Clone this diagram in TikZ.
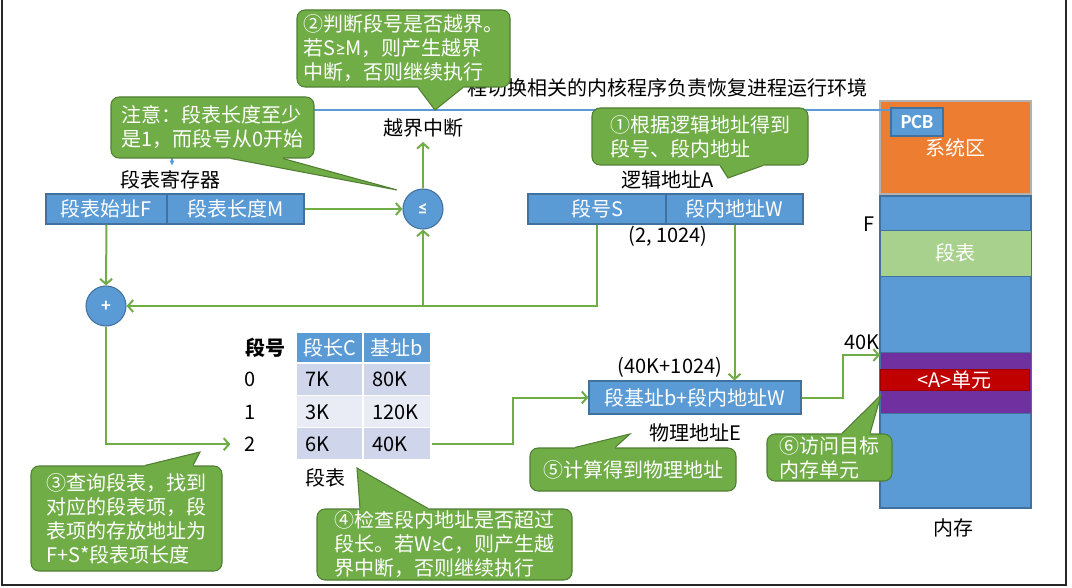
\documentclass[tikz,border=0pt]{standalone}
\usepackage{fontspec}
\setmainfont{Noto Sans CJK SC}
\newfontfamily\latf{Carlito}
\usepackage{tikz}
\usetikzlibrary{positioning,arrows.meta,calc}
\definecolor{boxblue}{HTML}{5B9BD5}
\definecolor{boxedge}{HTML}{41719C}
\definecolor{notegreen}{HTML}{70AD47}
\definecolor{noteedge}{HTML}{507E32}
\definecolor{sysorange}{HTML}{ED7D31}
\definecolor{tblgreen}{HTML}{A9D18E}
\definecolor{segpurple}{HTML}{7030A0}
\definecolor{unitred}{HTML}{C00000}
\definecolor{rowdark}{HTML}{CFD5EA}
\definecolor{rowlight}{HTML}{E9EBF5}
\newcommand{\blk}[7]{%
  \node[#6, minimum width={(#4-(#2))*0.75pt}, minimum height={(#5-(#3))*0.75pt}]
    (#1) at ({(#2+#4)/2},{(#3+#5)/2}) {#7};
}
\newcommand{\notetip}[5]{%
  \fill[notegreen] ($(#3,0 |- #1.#2)!2pt!(#3,0 |- #1.center)$) -- (#3,0 |- #1.#2) -- (#5)
    -- (#4,0 |- #1.#2) -- ($(#4,0 |- #1.#2)!2pt!(#4,0 |- #1.center)$) -- cycle;
  \draw[noteedge,line width=0.8pt] (#3,0 |- #1.#2) -- (#5) -- (#4,0 |- #1.#2);
}
\newcommand{\ges}{{\latf ≥}}

\begin{document}
\begin{tikzpicture}[x=0.75pt,y=-0.75pt,
  every node/.style={font=\fontsize{15}{18}\selectfont},
  bluebox/.style={draw=boxedge,fill=boxblue,text=white,inner sep=0pt,line width=0.8pt},
  cellbox/.style={draw=white,line width=1.2pt,inner sep=0pt},
  note/.style={draw=noteedge,fill=notegreen,text=white,inner sep=0pt,rounded corners=6pt,align=left,line width=0.8pt},
  opnode/.style={circle,draw=boxedge,fill=boxblue,text=white,minimum size=30pt,inner sep=0pt,line width=0.8pt,font=\fontsize{14}{16}\selectfont\latf\bfseries},
  flow/.style={draw=notegreen,line width=1.5pt,-{Straight Barb[length=4pt,width=9pt]}},
  bline/.style={draw=boxblue,line width=0.8pt}]
  \useasboundingbox (0,0) rectangle (1072,588);
  \draw[line width=1.5pt,black!85] (2,0) -- (2,585) -- (1066,585) -- (1066,0);

  \node[anchor=east] (kern) at (872,88) {程切换相关的内核程序负责恢复进程运行环境};
  \blk{sys}{880}{101}{1031}{194}{draw=gray!60,fill=sysorange,text=white,inner sep=0pt,line width=0.8pt}{系统区}
  \blk{pcb}{891}{108}{943}{136}{bluebox,font=\fontsize{15}{18}\selectfont\latf\bfseries}{PCB}
  \coordinate (lnstart) at (300,110);
  \draw[bline] (lnstart) -- (lnstart -| pcb.west);

  \node (regl) at (170,180) {段表寄存器};
  \blk{F}{46}{194}{167}{224}{bluebox}{段表始址F}
  \blk{M}{167}{194}{304}{224}{bluebox}{段表长度M}
  \node[opnode] (le) at (423,209) {≤};
  \node[opnode] (plus) at (106,306) {+};
  \node (intr) at (423,128) {越界中断};

  \node (la) at (668,180) {逻辑地址A};
  \blk{S}{528}{194}{666}{224}{bluebox}{段号S}
  \blk{W}{666}{194}{803}{224}{bluebox}{段内地址W}
  \node (l21) at (668,236) {(2, 1024)};
  \node (l40k) at (670,367) {(40K+1024)};
  \blk{phys}{589}{381}{801}{414}{bluebox}{段基址b+段内地址W}
  \node (le2) at (695,433) {物理地址E};

  \node[font=\fontsize{15}{18}\selectfont\bfseries] (hno) at (265,348) {段号};
  \blk{hc}{296}{332}{363}{363}{cellbox,fill=boxblue,text=white}{段长C}
  \blk{hb}{363}{332}{431}{363}{cellbox,fill=boxblue,text=white}{基址b}
  \foreach \r/\c/\b/\f in {0/7K/80K/rowdark,1/3K/120K/rowlight,2/6K/40K/rowdark} {
    \blk{cc\r}{296}{363+32.3*\r}{363}{395.3+32.3*\r}{cellbox,fill=\f}{}
    \blk{cb\r}{363}{363+32.3*\r}{431}{395.3+32.3*\r}{cellbox,fill=\f}{}
    \node[anchor=west,inner sep=0pt] (tc\r) at (305,379.6+32.3*\r) {\c};
    \node[anchor=west,inner sep=0pt] (tb\r) at (372,379.6+32.3*\r) {\b};
    \node (r\r) at (250,379.6+32.3*\r) {\r};
  }
  \node (tname) at (325,478) {段表};

  \blk{mem}{880}{196}{1031}{508}{bluebox}{}
  \blk{seg}{880}{230}{1031}{276}{draw=boxedge,fill=tblgreen,text=white,inner sep=0pt,line width=0.5pt}{段表}
  \blk{tgt}{880}{352}{1031}{413}{draw=boxedge,fill=segpurple,inner sep=0pt,line width=0.5pt}{}
  \blk{unit}{880}{369}{1029}{390}{draw=unitred!80!black,fill=unitred,text=white,inner sep=0pt,line width=0.5pt}{<A>单元}
  \node (lF) at (869,224) {F};
  \node (l40) at (862,342) {40K};
  \node (lmem) at (953,528) {内存};
  \coordinate (k40) at (880,355);

  \draw[flow] (M.east) -- (le.west);
  \draw[flow] (F.south) -- (plus.north);
  \draw[flow] (S.south) |- (plus.east);
  \draw[flow] (le.south |- plus.east) -- (le.south);
  \draw[flow] (le.north) -- (intr.south);
  \draw[flow] (plus.south) |- ([xshift=-7pt]r2.west);
  \draw[flow] (cb2.east) -- ++(81,0) |- (phys.west);
  \draw[flow] (W.south) -- (W.south |- phys.north);
  \draw[flow] (phys.east) -- ++(41,0) |- (k40);
  \coordinate (ta) at (172,158);
  \draw[boxblue,line width=0.8pt,-{Latex[length=4pt,width=4pt]}] (ta) -- ++(0,8);

  \blk{n2}{297}{10}{510}{87}{note}{②判断段号是否越界。\\若S\ges M，则产生越界\\中断，否则继续执行}
  \coordinate (t2) at (435,110);
  \notetip{n2}{south}{418}{463}{t2}
  \blk{n0}{111}{97}{314}{158}{note}{注意：段表长度至少\\是1，而段号从0开始}
  \coordinate (t0) at (397,190);
  \notetip{n0}{south}{231}{283}{t0}
  \blk{n1}{592}{108}{808}{165}{note}{①根据逻辑地址得到\\段号、段内地址}
  \coordinate (t1) at (728,178);
  \notetip{n1}{south}{720}{763}{t1}
  \blk{n3}{31}{466}{222}{571}{note}{③查询段表，找到\\对应的段表项，段\\表项的存放地址为\\F+S*段表项长度}
  \coordinate (t3) at (200,452);
  \notetip{n3}{north}{145}{193}{t3}
  \blk{n4}{317}{509}{572}{580}{note}{④检查段内地址是否超过\\段长。若W\ges C，则产生越\\界中断，否则继续执行}
  \coordinate (t4) at (357,468);
  \notetip{n4}{north}{360}{428}{t4}
  \blk{n5}{530}{448}{736}{491}{note}{⑤计算得到物理地址}
  \coordinate (t5) at (630,434);
  \notetip{n5}{north}{575}{615}{t5}
  \blk{n6}{767}{434}{892}{481}{note}{⑥访问目标\\内存单元}
  \coordinate (t6) at (881,395);
  \notetip{n6}{north}{842}{870}{t6}
\end{tikzpicture}
\end{document}
